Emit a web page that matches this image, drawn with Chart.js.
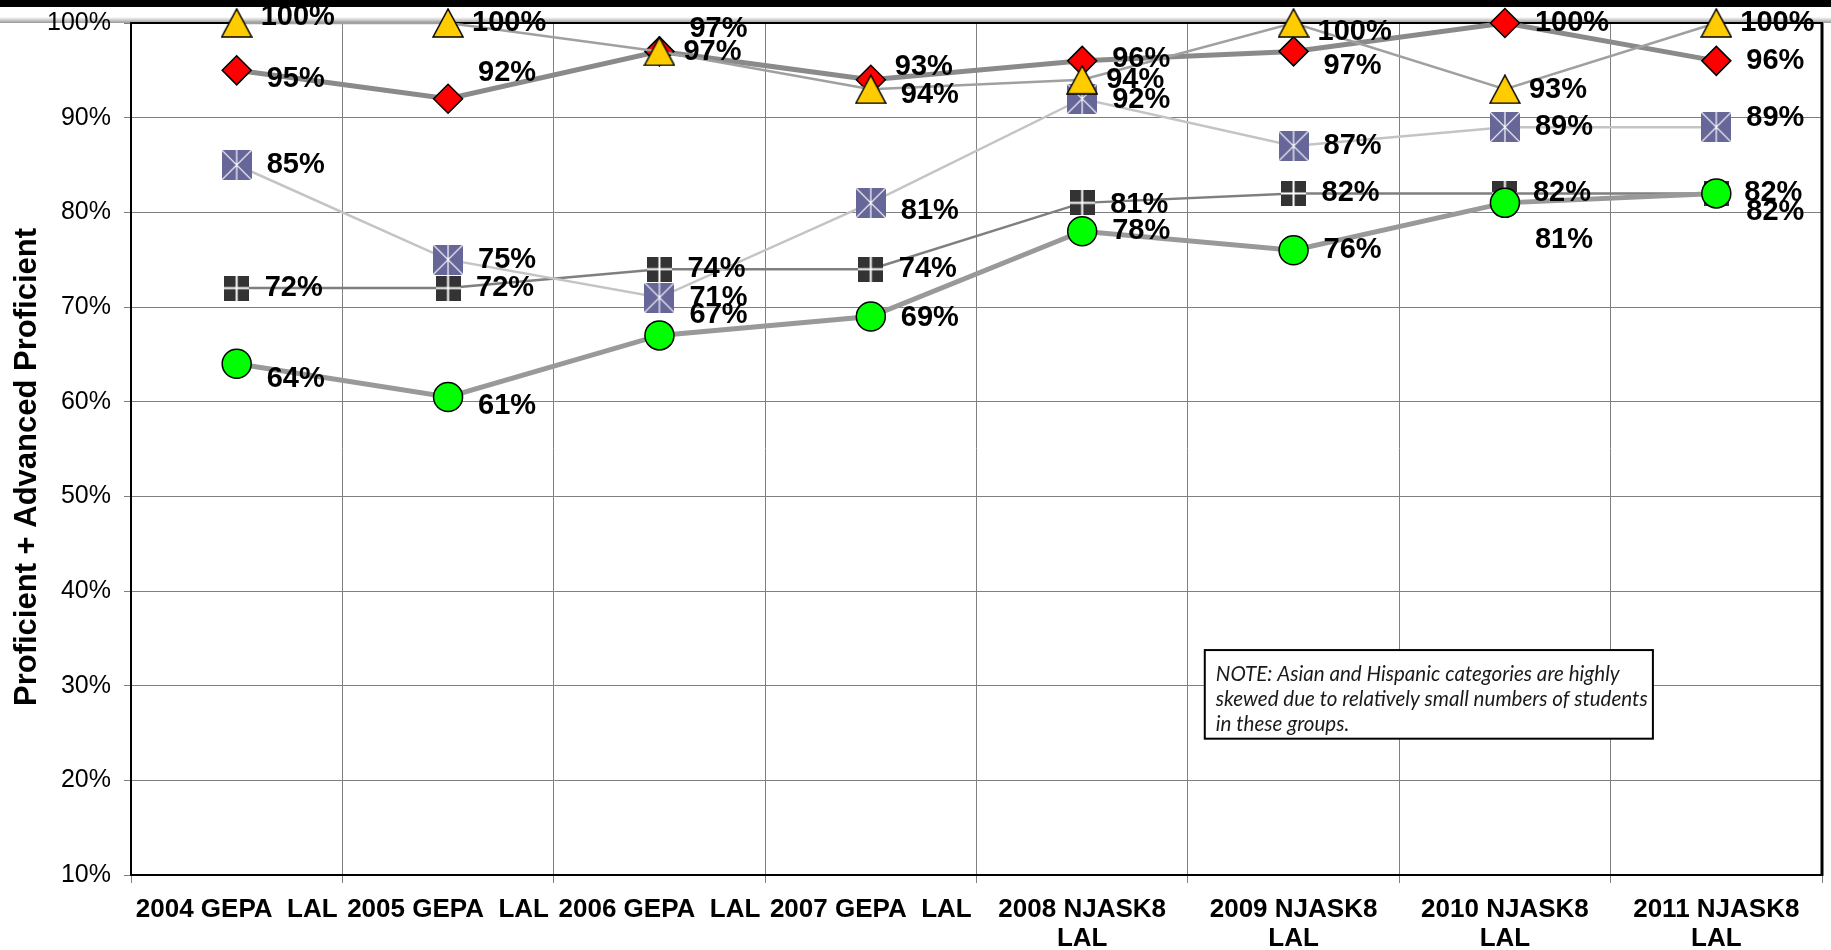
<!DOCTYPE html>
<html>
<head>
<meta charset="utf-8">
<title>Proficient + Advanced Proficient</title>
<script src="https://cdn.jsdelivr.net/npm/chart.js@4.4.1/dist/chart.umd.min.js"></script>
<style>
  html, body { margin: 0; padding: 0; background: #fff; overflow: hidden; }
  canvas { display: block; }
</style>
</head>
<body>
<canvas id="chart" width="1831" height="950"></canvas>
<script>
// categories (x axis)
const categories = [
  '2004 GEPA  LAL', '2005 GEPA  LAL', '2006 GEPA  LAL', '2007 GEPA  LAL',
  ['2008 NJASK8', 'LAL'], ['2009 NJASK8', 'LAL'], ['2010 NJASK8', 'LAL'], ['2011 NJASK8', 'LAL']
];

// series values, % proficient + advanced proficient
const asianVals    = [100, 100, 97, 93, 94, 100, 93, 100];   // yellow triangles
const diamondVals  = [95, 92, 97, 94, 96, 97, 100, 96];      // red diamonds
const hispanicVals = [85, 75, 71, 81, 92, 87, 89, 89];       // lavender boxes
const squareVals   = [72, 72, 74, 74, 81, 82, 82, 82];       // black squares
const circleVals   = [64, 60.5, 67, 69, 78, 76, 81, 82];     // green circles

// y axis
const yMin = 10, yMax = 100, yStep = 10;
const yTitle = 'Proficient + Advanced Proficient';
const noteLines = [
  'NOTE: Asian and Hispanic categories are highly',
  'skewed due to relatively small numbers of students',
  'in these groups.'
];

// vertical nudges for the value labels (px), same order as the values
const nudgeCircle   = [15, 9, -20, 2, 0, 0, 37, 19];
const nudgeAsian    = [-6, 0, 1, -22, 0, 9, 1, 0];
const nudgeDiamond  = [9, -26, -22, 15, -2, 15, 0, 0];
const nudgeHispanic = [0, 0, 0, 8, 1, 0, 0, -9];
const nudgeSquare   = [0, 0, 0, 0, 2, 0, 0, 0];

const FONT = '"Liberation Sans", Arial, sans-serif';
Chart.defaults.font.family = FONT;
Chart.defaults.color = '#000';

function makeMarker(w, h, draw){
  const c = document.createElement('canvas');
  c.width = w; c.height = h;
  draw(c.getContext('2d'), w, h);
  return c;
}
const boxMarker = makeMarker(30, 30, (g, w, h) => {
  g.fillStyle = '#666699'; g.fillRect(0, 0, w, h);
  g.strokeStyle = '#fff'; g.lineWidth = 1.2;
  g.beginPath();
  g.moveTo(0, 0); g.lineTo(w, h);
  g.moveTo(w, 0); g.lineTo(0, h);
  g.moveTo(w / 2, 0); g.lineTo(w / 2, h);
  g.stroke();
});
const squareMarker = makeMarker(25, 25, (g, w, h) => {
  g.fillStyle = '#333'; g.fillRect(0, 0, w, h);
  g.fillStyle = '#fff';
  g.fillRect(w / 2 - 1, 0, 2, h);
  g.fillRect(0, h / 2 - 1, w, 2);
});
const triMarker = makeMarker(32, 30, (g, w, h) => {
  g.beginPath();
  g.moveTo(1, h - 1); g.lineTo(w / 2, 1); g.lineTo(w - 1, h - 1); g.closePath();
  g.fillStyle = '#ffcc00'; g.fill();
  g.strokeStyle = '#000'; g.lineWidth = 1.5; g.stroke();
});

// black band + shadow line at the top, plot frame, axis title
const frame = {
  id: 'frame',
  beforeDraw(chart){
    const ctx = chart.ctx;
    ctx.save();
    ctx.fillStyle = '#fff'; ctx.fillRect(0, 0, chart.width, chart.height);
    ctx.fillStyle = '#000'; ctx.fillRect(0, 0, chart.width, 7);
    const gr = ctx.createLinearGradient(0, 17, 0, 23);
    gr.addColorStop(0, '#ffffff'); gr.addColorStop(1, '#999999');
    ctx.fillStyle = gr; ctx.fillRect(0, 17, chart.width, 6);
    ctx.restore();
  },
  beforeDatasetsDraw(chart){
    const {ctx, chartArea: a} = chart;
    ctx.save();
    ctx.strokeStyle = '#000';
    ctx.lineWidth = 2;
    ctx.strokeRect(a.left, a.top, a.right - a.left, a.bottom - a.top);
    ctx.lineWidth = 3;
    ctx.beginPath(); ctx.moveTo(a.right, a.top); ctx.lineTo(a.right, a.bottom + 1); ctx.stroke();
    // y axis title
    ctx.translate(27, (a.top + a.bottom) / 2 + 18);
    ctx.rotate(-Math.PI / 2);
    ctx.font = 'bold 31px ' + FONT;
    ctx.fillStyle = '#000';
    ctx.textAlign = 'center';
    ctx.textBaseline = 'middle';
    ctx.fillText(yTitle, 0, 0);
    ctx.restore();
  }
};

const valueLabels = {
  id: 'valueLabels',
  afterDatasetsDraw(chart){
    const ctx = chart.ctx;
    ctx.save();
    ctx.font = 'bold 29px ' + FONT;
    ctx.fillStyle = '#000';
    ctx.textAlign = 'left';
    ctx.textBaseline = 'middle';
    chart.data.datasets.forEach((ds, di) => {
      chart.getDatasetMeta(di).data.forEach((pt, i) => {
        ctx.fillText(Math.round(ds.data[i]) + '%', pt.x + ds.labelDx, pt.y + ds.nudge[i]);
      });
    });
    ctx.restore();
  }
};

const noteBox = {
  id: 'noteBox',
  afterDraw(chart){
    const {ctx, chartArea: a} = chart;
    const w = a.right - a.left, h = a.bottom - a.top;
    const x0 = a.left + w * 0.635, x1 = a.left + w * 0.900;
    const y0 = a.top + h * 0.736, y1 = a.top + h * 0.840;
    ctx.save();
    ctx.fillStyle = '#fff';
    ctx.fillRect(x0, y0, x1 - x0, y1 - y0);
    ctx.strokeStyle = '#000'; ctx.lineWidth = 2;
    ctx.strokeRect(x0, y0, x1 - x0, y1 - y0);
    ctx.font = 'italic 20px Lato, "Open Sans", sans-serif';
    const size = 20 * 432 / ctx.measureText(noteLines[1]).width;
    ctx.font = 'italic ' + size.toFixed(2) + 'px Lato, "Open Sans", sans-serif';
    ctx.fillStyle = '#1a1a1a';
    ctx.textBaseline = 'middle';
    noteLines.forEach((t, i) => ctx.fillText(t, x0 + 11, y0 + 24 + i * 25));
    ctx.restore();
  }
};

function series(data, line, lw, marker, extra, nudge, dx){
  return Object.assign({
    data, borderColor: line, borderWidth: lw, tension: 0, clip: false,
    pointStyle: marker, pointBorderColor: '#000', pointBorderWidth: 1.5,
    nudge, labelDx: dx
  }, extra);
}

new Chart(document.getElementById('chart'), {
  type: 'line',
  data: {
    labels: categories,
    // first dataset is drawn on top
    datasets: [
      series(circleVals, '#999999', 5, 'circle', {pointRadius: 14.5, pointBackgroundColor: '#00ff00'}, nudgeCircle, 30),
      series(asianVals, '#a0a0a0', 2.5, triMarker, {pointRadius: 15}, nudgeAsian, 24),
      series(diamondVals, '#8a8a8a', 5, 'rectRot', {pointRadius: 14.5, pointBackgroundColor: '#ff0000'}, nudgeDiamond, 30),
      series(hispanicVals, '#c4c4c4', 2.5, boxMarker, {pointRadius: 15}, nudgeHispanic, 30),
      series(squareVals, '#7f7f7f', 2.5, squareMarker, {pointRadius: 12}, nudgeSquare, 28)
    ]
  },
  options: {
    responsive: false,
    animation: false,
    events: [],
    layout: { autoPadding: false, padding: { top: 23, right: 9, left: 0, bottom: 0 } },
    plugins: { legend: { display: false }, tooltip: { enabled: false } },
    scales: {
      x: {
        offset: true,
        grid: { offset: true, color: '#808080', lineWidth: 1, tickLength: 8 },
        border: { color: '#000', width: 2 },
        ticks: {
          color: '#000', autoSkip: false, maxRotation: 0, minRotation: 0, padding: 13,
          font: { size: 26, weight: 'bold', lineHeight: 1.1 }
        },
        afterFit(s){ s.height = 75; }
      },
      y: {
        min: yMin, max: yMax,
        grid: { color: '#808080', lineWidth: 1, tickLength: 7 },
        border: { color: '#000', width: 2 },
        ticks: { stepSize: yStep, padding: 13, color: '#000', font: { size: 25 }, callback: v => v + '%' },
        afterFit(s){ s.width = 131; s.paddingTop = 0; s.paddingBottom = 0; }
      }
    }
  },
  plugins: [frame, valueLabels, noteBox]
});
</script>
</body>
</html>
